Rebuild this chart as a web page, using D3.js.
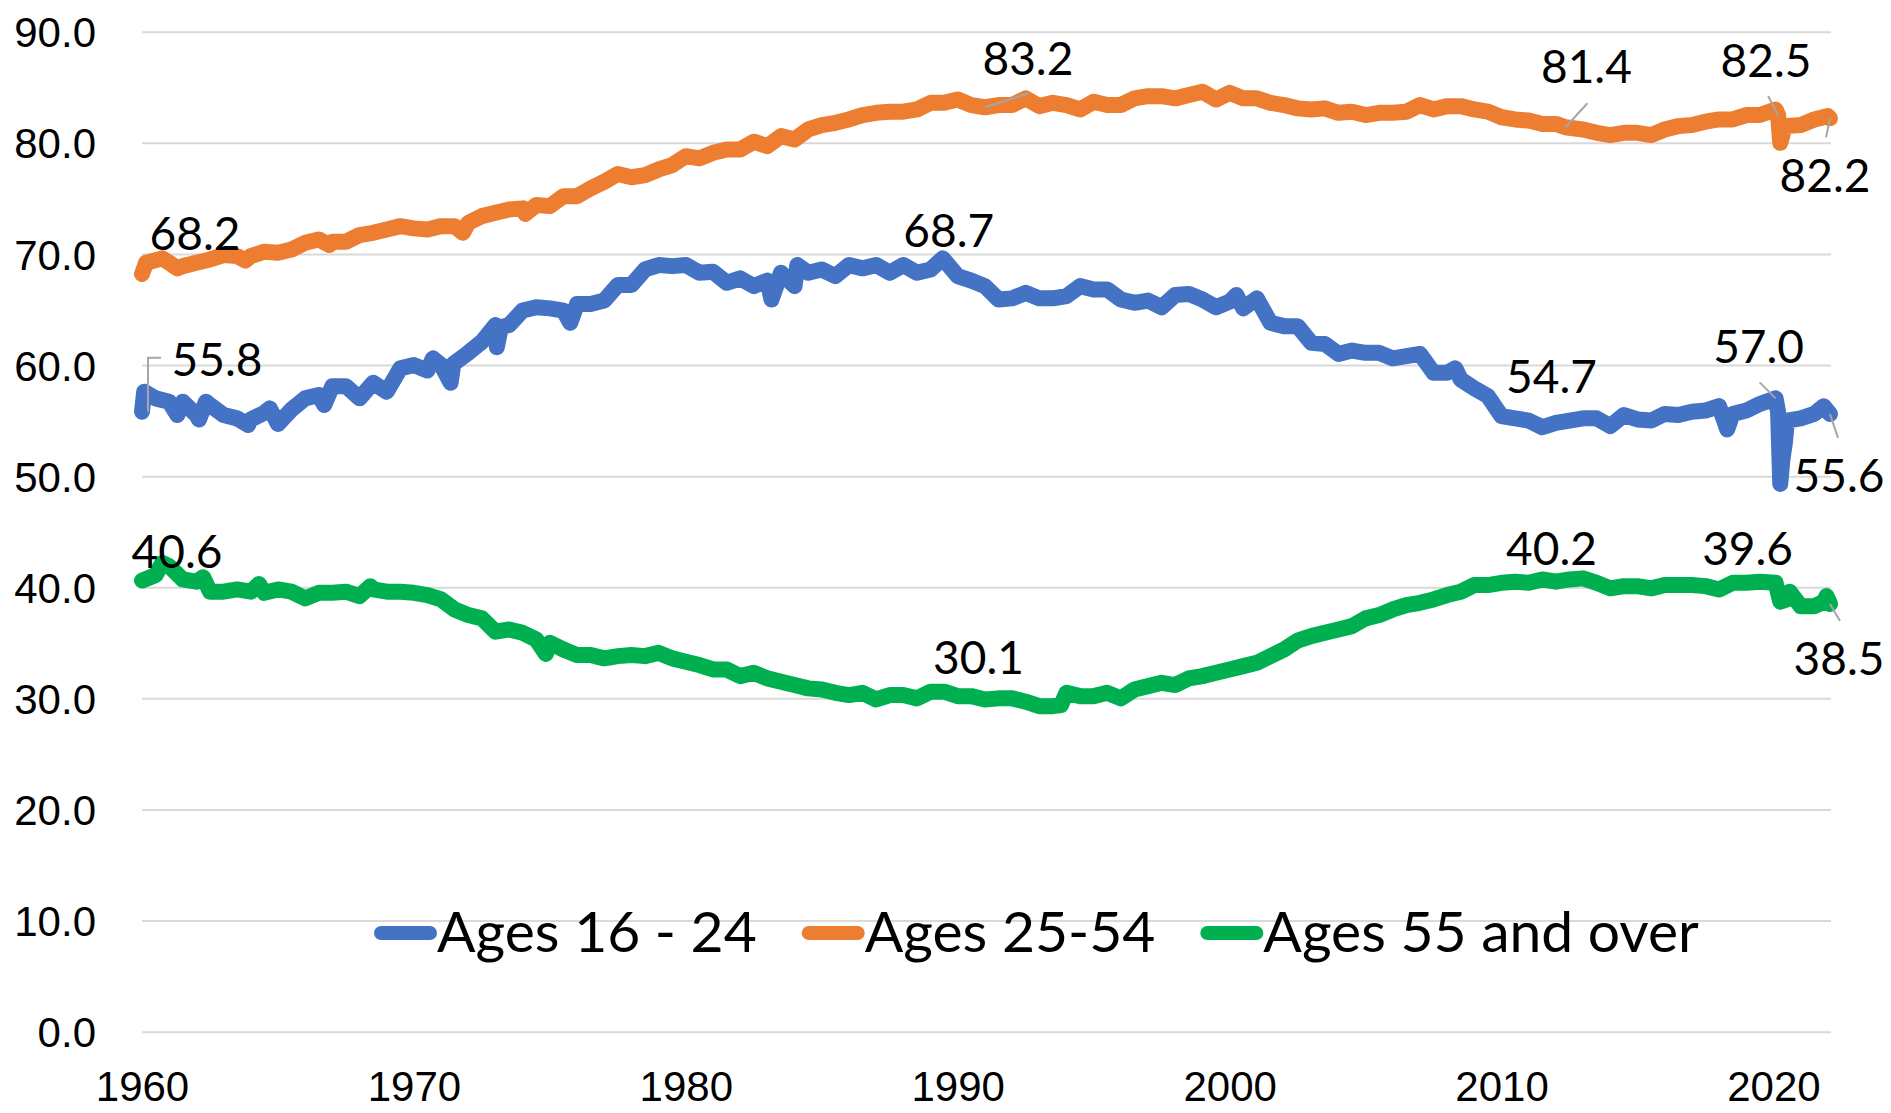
<!DOCTYPE html>
<html>
<head>
<meta charset="utf-8">
<script src="https://cdn.jsdelivr.net/npm/d3@7"></script>
<style>
  html, body { margin: 0; padding: 0; background: #fff; }
  svg { display: block; font-family: Lato, "Open Sans", sans-serif; }
</style>
</head>
<body>
<div class="container"></div>
<script>
// labour force participation rate by age group ([year, value])
var youth = [[1960.0,55.8],[1960.08,57.6],[1960.5,57.0],[1961.0,56.7],[1961.3,55.5],[1961.5,56.7],[1962.0,55.5],[1962.1,55.1],[1962.35,56.7],[1962.5,56.4],[1963.0,55.5],[1963.5,55.2],[1963.9,54.6],[1964.0,55.1],[1964.5,55.7],[1964.7,56.1],[1965.0,54.7],[1965.5,56.0],[1966.0,57.0],[1966.5,57.3],[1966.7,56.4],[1967.0,58.1],[1967.5,58.1],[1968.0,57.0],[1968.5,58.4],[1969.0,57.6],[1969.5,59.7],[1970.0,60.0],[1970.5,59.5],[1970.7,60.6],[1971.0,60.0],[1971.35,58.4],[1971.45,60.1],[1972.0,61.1],[1972.5,62.1],[1973.0,63.6],[1973.05,61.6],[1973.2,63.4],[1973.5,63.6],[1974.0,64.9],[1974.5,65.2],[1975.0,65.1],[1975.5,64.9],[1975.75,63.8],[1976.0,65.5],[1976.5,65.5],[1977.0,65.8],[1977.5,67.2],[1978.0,67.2],[1978.5,68.6],[1979.0,69.0],[1979.5,68.9],[1980.0,69.0],[1980.5,68.3],[1981.0,68.4],[1981.5,67.4],[1982.0,67.8],[1982.5,67.1],[1983.0,67.6],[1983.15,65.9],[1983.5,68.3],[1984.0,67.1],[1984.1,69.0],[1984.5,68.3],[1985.0,68.6],[1985.5,68.0],[1986.0,69.0],[1986.5,68.7],[1987.0,69.0],[1987.5,68.3],[1988.0,69.0],[1988.5,68.3],[1989.0,68.6],[1989.45,69.6],[1990.0,68.0],[1990.5,67.6],[1991.0,67.1],[1991.5,65.9],[1992.0,66.0],[1992.5,66.5],[1993.0,66.0],[1993.5,66.0],[1994.0,66.2],[1994.5,67.1],[1995.0,66.8],[1995.5,66.8],[1996.0,65.9],[1996.5,65.6],[1997.0,65.8],[1997.5,65.2],[1998.0,66.3],[1998.5,66.4],[1999.0,65.9],[1999.5,65.2],[2000.0,65.7],[2000.25,66.3],[2000.5,65.1],[2001.0,66.0],[2001.5,63.8],[2002.0,63.5],[2002.5,63.5],[2003.0,62.0],[2003.5,61.9],[2004.0,61.0],[2004.5,61.3],[2005.0,61.1],[2005.5,61.1],[2006.0,60.6],[2006.5,60.8],[2007.0,61.0],[2007.5,59.3],[2008.0,59.3],[2008.3,59.7],[2008.5,58.7],[2009.0,57.9],[2009.5,57.2],[2010.0,55.4],[2010.5,55.2],[2011.0,55.0],[2011.5,54.4],[2012.0,54.8],[2012.5,55.0],[2013.0,55.2],[2013.5,55.2],[2014.0,54.5],[2014.5,55.5],[2015.0,55.1],[2015.5,55.0],[2016.0,55.6],[2016.5,55.5],[2017.0,55.8],[2017.5,55.9],[2018.0,56.3],[2018.3,54.2],[2018.5,55.6],[2019.0,55.9],[2019.5,56.5],[2020.08,57.0],[2020.17,55.8],[2020.25,49.3],[2020.33,51.5],[2020.42,53.0],[2020.5,55.0],[2021.0,55.2],[2021.5,55.6],[2021.85,56.3],[2022.08,55.6]];

var prime = [[1960.0,68.2],[1960.15,69.2],[1960.75,69.6],[1961.0,69.2],[1961.3,68.7],[1961.5,68.9],[1962.0,69.2],[1962.5,69.5],[1963.0,69.9],[1963.5,69.8],[1963.8,69.4],[1964.0,69.8],[1964.5,70.2],[1965.0,70.1],[1965.5,70.4],[1966.0,71.0],[1966.5,71.3],[1966.9,70.8],[1967.0,71.1],[1967.5,71.1],[1968.0,71.7],[1968.5,71.9],[1969.0,72.2],[1969.5,72.5],[1970.0,72.3],[1970.5,72.2],[1971.0,72.5],[1971.5,72.5],[1971.8,71.9],[1972.0,72.8],[1972.5,73.4],[1973.0,73.7],[1973.5,74.0],[1974.0,74.1],[1974.1,73.6],[1974.5,74.4],[1975.0,74.3],[1975.5,75.2],[1976.0,75.2],[1976.5,75.9],[1977.0,76.5],[1977.5,77.2],[1978.0,76.9],[1978.5,77.1],[1979.0,77.6],[1979.5,78.0],[1980.0,78.8],[1980.5,78.6],[1981.0,79.1],[1981.5,79.4],[1982.0,79.4],[1982.5,80.1],[1983.0,79.7],[1983.5,80.6],[1984.0,80.3],[1984.5,81.2],[1985.0,81.6],[1985.5,81.8],[1986.0,82.1],[1986.5,82.5],[1987.0,82.7],[1987.5,82.8],[1988.0,82.8],[1988.5,83.0],[1989.0,83.6],[1989.5,83.6],[1990.0,83.9],[1990.5,83.4],[1991.0,83.2],[1991.5,83.4],[1992.0,83.4],[1992.5,84.0],[1993.0,83.3],[1993.5,83.6],[1994.0,83.4],[1994.5,83.0],[1995.0,83.7],[1995.5,83.4],[1996.0,83.4],[1996.5,84.0],[1997.0,84.2],[1997.5,84.2],[1998.0,84.0],[1998.5,84.3],[1999.0,84.6],[1999.5,83.9],[2000.0,84.5],[2000.5,84.0],[2001.0,84.0],[2001.5,83.6],[2002.0,83.4],[2002.5,83.1],[2003.0,83.0],[2003.5,83.1],[2004.0,82.7],[2004.5,82.8],[2005.0,82.5],[2005.5,82.7],[2006.0,82.7],[2006.5,82.8],[2007.0,83.4],[2007.5,83.0],[2008.0,83.3],[2008.5,83.3],[2009.0,83.0],[2009.5,82.8],[2010.0,82.3],[2010.5,82.1],[2011.0,82.0],[2011.5,81.7],[2012.0,81.7],[2012.35,81.4],[2013.0,81.2],[2013.5,80.9],[2014.0,80.7],[2014.5,80.9],[2015.0,80.9],[2015.5,80.7],[2016.0,81.2],[2016.5,81.5],[2017.0,81.6],[2017.5,81.9],[2018.0,82.1],[2018.5,82.1],[2019.0,82.5],[2019.5,82.5],[2020.08,83.0],[2020.17,82.5],[2020.25,80.0],[2020.33,80.7],[2020.42,81.5],[2021.0,81.6],[2021.5,82.1],[2022.0,82.4],[2022.08,82.2]];

var older = [[1960.0,40.6],[1960.5,41.1],[1960.75,42.2],[1961.0,41.9],[1961.5,40.7],[1962.0,40.5],[1962.25,40.9],[1962.5,39.6],[1963.0,39.6],[1963.5,39.8],[1964.0,39.6],[1964.3,40.3],[1964.5,39.5],[1965.0,39.8],[1965.5,39.6],[1966.0,39.0],[1966.5,39.5],[1967.0,39.5],[1967.5,39.6],[1968.0,39.2],[1968.4,40.1],[1968.5,39.8],[1969.0,39.6],[1969.5,39.6],[1970.0,39.5],[1970.5,39.3],[1971.0,38.9],[1971.5,38.0],[1972.0,37.5],[1972.5,37.2],[1973.0,36.0],[1973.5,36.2],[1974.0,35.9],[1974.5,35.3],[1974.85,34.0],[1975.0,35.0],[1975.5,34.4],[1976.0,33.9],[1976.5,33.9],[1977.0,33.6],[1977.5,33.8],[1978.0,33.9],[1978.5,33.8],[1979.0,34.1],[1979.5,33.6],[1980.0,33.3],[1980.5,33.0],[1981.0,32.6],[1981.5,32.6],[1982.0,32.0],[1982.5,32.3],[1983.0,31.8],[1983.5,31.5],[1984.0,31.2],[1984.5,30.9],[1985.0,30.8],[1985.5,30.5],[1986.0,30.3],[1986.5,30.5],[1987.0,29.9],[1987.5,30.3],[1988.0,30.3],[1988.5,30.0],[1989.0,30.6],[1989.5,30.6],[1990.0,30.2],[1990.5,30.2],[1991.0,29.9],[1991.5,30.0],[1992.0,30.0],[1992.5,29.7],[1993.0,29.3],[1993.5,29.3],[1993.8,29.4],[1994.0,30.5],[1994.5,30.2],[1995.0,30.2],[1995.5,30.5],[1996.0,30.0],[1996.5,30.8],[1997.0,31.1],[1997.5,31.4],[1998.0,31.2],[1998.5,31.8],[1999.0,32.0],[1999.5,32.3],[2000.0,32.6],[2000.5,32.9],[2001.0,33.2],[2001.5,33.8],[2002.0,34.4],[2002.5,35.2],[2003.0,35.6],[2003.5,35.9],[2004.0,36.2],[2004.5,36.5],[2005.0,37.2],[2005.5,37.5],[2006.0,38.0],[2006.5,38.4],[2007.0,38.6],[2007.5,38.9],[2008.0,39.3],[2008.5,39.6],[2009.0,40.2],[2009.5,40.2],[2010.0,40.4],[2010.5,40.5],[2011.0,40.4],[2011.5,40.7],[2012.0,40.5],[2012.5,40.7],[2013.0,40.8],[2013.5,40.4],[2014.0,39.9],[2014.5,40.1],[2015.0,40.1],[2015.5,39.9],[2016.0,40.2],[2016.5,40.2],[2017.0,40.2],[2017.5,40.1],[2018.0,39.8],[2018.5,40.4],[2019.0,40.4],[2019.5,40.5],[2020.08,40.4],[2020.25,38.7],[2020.5,38.9],[2020.6,39.6],[2021.0,38.3],[2021.5,38.3],[2021.85,38.7],[2021.95,39.2],[2022.08,38.5]];

var seriesNames = ["Ages 16 - 24", "Ages 25-54", "Ages 55 and over"];
var seriesColors = ["#4472C4", "#ED7D31", "#00B050"];
var yTicks = [0, 10, 20, 30, 40, 50, 60, 70, 80, 90];
var xTicks = [1960, 1970, 1980, 1990, 2000, 2010, 2020];

// data labels: [series index, year, value]
var labelPoints = [
    [1, 1960.0, 68.2], [0, 1960.0, 55.8], [2, 1960.0, 40.6],
    [1, 1991.0, 83.2], [0, 1989.45, 68.7], [2, 1990.8, 30.1],
    [1, 2012.35, 81.4], [0, 2011.8, 54.7], [2, 2011.8, 40.2],
    [1, 2020.17, 82.5], [0, 2020.08, 57.0], [2, 2020.08, 39.6],
    [1, 2022.08, 82.2], [0, 2022.08, 55.6], [2, 2022.08, 38.5]
];
// where each label sits relative to its point, and its leader line (if any)
var labelPlacement = [
    {dx: 53, dy: -24}, {dx: 75, dy: -36, leader: [[6, 0], [6, -54], [19, -54]]}, {dx: 35, dy: -13},
    {dx: 43, dy: -32, leader: [[0, 0], [44, -14]]}, {dx: 6, dy: -21}, {dx: -1, dy: -23},
    {dx: 21, dy: -44, leader: [[0, 0], [22, -24]]}, {dx: 1, dy: -31}, {dx: 1, dy: -20},
    {dx: -12, dy: -38, leader: [[0, 0], [-10, -19]]}, {dx: -17, dy: -35, leader: [[0, 0], [-16, -16]]}, {dx: -28, dy: -27},
    {dx: -5, dy: 74, leader: [[0, 0], [-4, 19]]}, {dx: 9, dy: 78, leader: [[0, 0], [8, 24]]}, {dx: 9, dy: 71, leader: [[0, 0], [10, 17]]}
];

var width = 1891, height = 1113;
var plotLeft = 142, plotRight = 1830, plotTop = 31.7, plotBottom = 1031.7;

var svg = d3.select(".container")
    .append("svg")
    .attr("width", width)
    .attr("height", height);

var x = d3.scaleLinear().domain([1960, 2022.08]).range([plotLeft, plotRight]);
var y = d3.scaleLinear().domain([0, 90]).range([plotBottom, plotTop]);

// y axis with gridlines
var yAxis = svg.append("g")
    .attr("transform", "translate(" + plotLeft + ",0)")
    .call(d3.axisLeft(y).tickValues(yTicks).tickFormat(d3.format(".1f"))
        .tickSize(-(plotRight + 1 - plotLeft)).tickPadding(46));
yAxis.select(".domain").remove();
yAxis.selectAll(".tick line").attr("stroke", "#D9D9D9").attr("stroke-width", 2);
yAxis.selectAll(".tick text")
    .attr("fill", "#000")
    .attr("font-size", 42)
    .attr("dy", "0.36em");

// x axis labels only (kept clear of the bottom edge)
var xAxis = svg.append("g")
    .attr("transform", "translate(0," + plotBottom + ")")
    .call(d3.axisBottom(x).tickValues(xTicks).tickFormat(d3.format("d")).tickSize(0).tickPadding(69));
xAxis.select(".domain").remove();
xAxis.selectAll(".tick text")
    .attr("fill", "#000")
    .attr("font-size", 42)
    .attr("dy", 0);

var line = d3.line()
    .x(function(d) { return x(d[0]); })
    .y(function(d) { return y(d[1]); });

var allSeries = [youth, prime, older];
svg.selectAll(".series")
    .data(allSeries)
    .enter()
    .append("path")
    .attr("class", "series")
    .attr("d", line)
    .attr("fill", "none")
    .attr("stroke", function(d, i) { return seriesColors[i]; })
    .attr("stroke-width", 16)
    .attr("stroke-linejoin", "round")
    .attr("stroke-linecap", "round");

// leader lines
labelPoints.forEach(function(p, i) {
    var pl = labelPlacement[i];
    if (!pl.leader) return;
    var px = x(p[1]), py = y(p[2]);
    svg.append("path")
        .attr("d", d3.line()(pl.leader.map(function(o) { return [px + o[0], py + o[1]]; })))
        .attr("fill", "none")
        .attr("stroke", "#A6A6A6")
        .attr("stroke-width", 2);
});

svg.selectAll(".dataLabel")
    .data(labelPoints)
    .enter()
    .append("text")
    .attr("class", "dataLabel")
    .attr("x", function(d, i) { return x(d[1]) + labelPlacement[i].dx; })
    .attr("y", function(d, i) { return y(d[2]) + labelPlacement[i].dy; })
    .attr("text-anchor", "middle")
    .attr("font-size", 46)
    .attr("fill", "#000")
    .text(function(d) { return d3.format(".1f")(d[2]); });

// legend
var legend = svg.append("g").attr("class", "legend");
var legendX = 374, legendY = 933;
seriesNames.forEach(function(name, i) {
    legend.append("line")
        .attr("x1", legendX + 7).attr("x2", legendX + 56)
        .attr("y1", legendY).attr("y2", legendY)
        .attr("stroke", seriesColors[i])
        .attr("stroke-width", 14)
        .attr("stroke-linecap", "round");
    var t = legend.append("text")
        .attr("x", legendX + 63)
        .attr("y", legendY + 19)
        .attr("font-size", 57)
        .attr("fill", "#000")
        .text(name);
    legendX += 63 + t.node().getComputedTextLength() + 45;
});
</script>
</body>
</html>
